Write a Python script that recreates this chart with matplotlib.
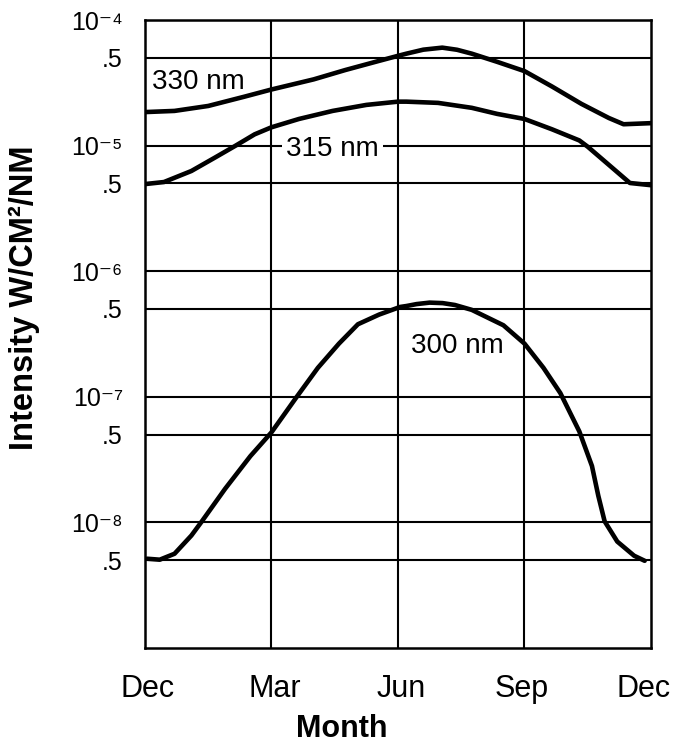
import matplotlib
matplotlib.use("Agg")
import matplotlib.pyplot as plt

plt.rcParams['font.family'] = ['Liberation Sans', 'DejaVu Sans']
plt.rcParams['mathtext.default'] = 'regular'

# months from December (0) to December (12)
month_labels = ["Dec", "Mar", "Jun", "Sep", "Dec"]
month_label_pos = [0.05, 3.07, 6.07, 8.93, 11.82]

m_330 = [0, 0.7, 1.5, 2.35, 3.0, 4.0, 4.75, 5.55, 6.0, 6.2, 6.6, 7.05, 7.4,
         7.75, 8.35, 9.0, 9.65, 10.35, 11.0, 11.35, 12.0]
i_330 = [1.85e-5, 1.89e-5, 2.07e-5, 2.45e-5, 2.80e-5, 3.37e-5, 4.00e-5, 4.73e-5,
         5.19e-5, 5.40e-5, 5.81e-5, 6.03e-5, 5.80e-5, 5.40e-5, 4.65e-5, 3.92e-5,
         2.96e-5, 2.15e-5, 1.66e-5, 1.48e-5, 1.51e-5]

m_315 = [0, 0.45, 1.1, 1.65, 2.15, 2.6, 3.0, 3.65, 4.45, 5.25, 6.0, 6.2, 6.95,
         7.75, 8.35, 9.0, 9.65, 10.3, 10.5, 11.0, 11.5, 12.0]
i_315 = [4.94e-6, 5.13e-6, 6.28e-6, 8.0e-6, 1.0e-5, 1.23e-5, 1.40e-5, 1.63e-5,
         1.89e-5, 2.11e-5, 2.24e-5, 2.24e-5, 2.19e-5, 2.0e-5, 1.79e-5, 1.63e-5,
         1.35e-5, 1.10e-5, 9.8e-6, 7.03e-6, 5.04e-6, 4.84e-6]

m_300 = [0.05, 0.35, 0.7, 1.1, 1.35, 1.9, 2.5, 3.0, 3.6, 4.1, 4.6, 5.05, 5.55,
         6.05, 6.2, 6.44, 6.75, 7.06, 7.35, 7.75, 8.5, 9.0, 9.45, 9.85, 10.3,
         10.6, 10.75, 10.9, 11.2, 11.6, 11.85]
i_300 = [5.13e-9, 5.04e-9, 5.62e-9, 7.85e-9, 1.02e-8, 1.85e-8, 3.37e-8, 5.21e-8,
         1.0e-7, 1.70e-7, 2.65e-7, 3.78e-7, 4.51e-7, 5.19e-7, 5.28e-7, 5.47e-7,
         5.62e-7, 5.57e-7, 5.38e-7, 4.92e-7, 3.71e-7, 2.65e-7, 1.70e-7, 1.07e-7,
         5.30e-8, 2.81e-8, 1.63e-8, 1.02e-8, 7.03e-9, 5.42e-9, 4.94e-9]

y_ticks = [1e-4, 5e-5, 1e-5, 5e-6, 1e-6, 5e-7, 1e-7, 5e-8, 1e-8, 5e-9]
y_labels = ["10⁻⁴", ".5", "10⁻⁵", ".5", "10⁻⁶", ".5",
            "10⁻⁷", ".5", "10⁻⁸", ".5"]

fig = plt.figure(figsize=(6.76, 7.43), dpi=100)
ax = fig.add_axes([0.2145, 0.128, 0.7485, 0.845])

for m, v in [(m_330, i_330), (m_315, i_315), (m_300, i_300)]:
    ax.plot(m, v, color="black", lw=3.3, solid_capstyle="round",
            solid_joinstyle="round", zorder=4)

ax.set_yscale("log")
ax.set_xlim(0, 12)
ax.set_ylim(1e-9, 1e-4)
ax.minorticks_off()
ax.set_yticks(y_ticks)
ax.set_yticklabels(y_labels, fontsize=18)
ax.set_xticks(month_label_pos)
ax.set_xticklabels(month_labels, fontsize=22)
ax.tick_params(axis="y", length=0, pad=16)
ax.tick_params(axis="x", length=0, pad=19)
ax.grid(False)
for y in y_ticks:
    ax.axhline(y, color="black", lw=1.5, zorder=1)
for x in [3, 6, 9]:
    ax.axvline(x, color="black", lw=1.5, zorder=1)
for s in ax.spines.values():
    s.set_linewidth(1.8)

ax.text(0.17, 2.85e-5, "330 nm", fontsize=20, ha="left", va="baseline")
ax.text(4.44, 8.3e-6, "315 nm", fontsize=20, ha="center", va="baseline",
        bbox=dict(boxstyle="square,pad=0.15", fc="white", ec="none"), zorder=3)
ax.text(6.32, 2.22e-7, "300 nm", fontsize=20, ha="left", va="baseline")

ax.set_xlabel("Month", fontsize=22, fontweight="bold")
ax.xaxis.set_label_coords(0.388, -0.105)
ax.set_ylabel("Intensity W/CM²/NM", fontsize=23.5, fontweight="bold")
ax.yaxis.set_label_coords(-0.2075, 0.558)

fig.savefig("out.png", dpi=100)
